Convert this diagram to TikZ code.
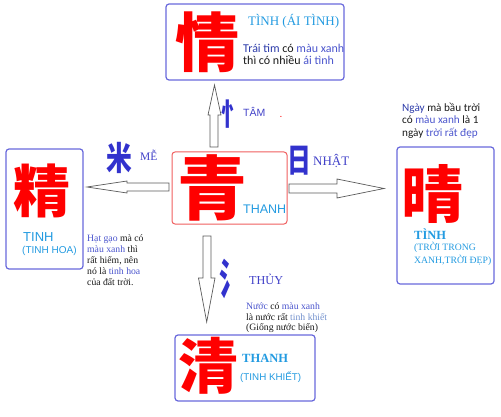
\documentclass[tikz,border=0pt]{standalone}
\usepackage{fontspec}
\setmainfont{Liberation Serif}
\newfontfamily\sansf{Liberation Sans}
\newfontfamily\calib{Carlito}
\newfontfamily\cjk{Noto Sans CJK SC}
\definecolor{lblue}{RGB}{35,155,225}
\definecolor{boxblue}{RGB}{105,105,220}
\definecolor{boxred}{RGB}{240,95,95}
\definecolor{lab}{RGB}{65,65,200}
\definecolor{rad}{RGB}{50,50,205}
\definecolor{nblue}{RGB}{75,85,205}
\definecolor{dblue}{RGB}{45,60,170}
\definecolor{gblue}{RGB}{115,145,205}
\definecolor{txt}{RGB}{25,25,25}
\definecolor{arr}{RGB}{90,90,90}
\newcommand\fsz[1]{\fontsize{#1}{#1}\selectfont}
\begin{document}
\begin{tikzpicture}[x=1pt,y=-1pt,
  bx/.style={draw=boxblue,line width=1.2pt,rounded corners=3pt,inner sep=0,fill=white},
  rbx/.style={draw=boxred,line width=1pt,rounded corners=3pt,inner sep=0,fill=white},
  blockarrow/.style={draw=arr,fill=white,line width=0.7pt,line join=miter},
  tx/.style={anchor=base west,inner sep=0,text=txt},
  big/.style={inner sep=0,text=red},
  radical/.style={inner sep=0,text=rad}]
\useasboundingbox (0,0) rectangle (501,417);
% boxes
\node[bx,minimum width=178pt,minimum height=76pt] (top) at (255,42) {};
\node[bx,minimum width=77pt,minimum height=120pt] (left) at (44.5,209) {};
\node[bx,minimum width=97pt,minimum height=137pt] (right) at (445.5,215.5) {};
\node[bx,minimum width=140pt,minimum height=66pt] (bottom) at (245,368) {};
\node[rbx,minimum width=115pt,minimum height=72pt] (center) at (229.5,188) {};
% block arrows
\coordinate (ua) at (214.5,85);
\draw[blockarrow] (210,147) -- (210,115) -- (208,115) -- (ua) -- (221,115) -- (218,115) -- (218,147) -- cycle;
\coordinate (la) at (87,187);
\draw[blockarrow] (169,183) -- (127,183) -- (127,181) -- (la) -- (127,193) -- (127,191) -- (169,191) -- cycle;
\coordinate (ra) at (384,188.5);
\draw[blockarrow] (289,184) -- (337,184) -- (337,179) -- (ra) -- (337,198) -- (337,193) -- (289,193) -- cycle;
\coordinate (da) at (206.7,322);
\draw[blockarrow] (203,236) -- (203,278) -- (198.5,278) -- (da) -- (215,278) -- (211,278) -- (211,236) -- cycle;
% big characters
\node[big,font=\cjk\bfseries\fsz{64}] (c1) at (207.5,42.5) {情};
\node[big,font=\cjk\bfseries\fsz{57}] (c2) at (41.5,191) {精};
\node[big,font=\cjk\bfseries\fsz{70}] (c3) at (212,188) {青};
\node[big,font=\cjk\bfseries\fsz{62}] (c4) at (432,194) {晴};
\node[big,font=\cjk\bfseries\fsz{60}] (c5) at (208.5,365.5) {清};
% radicals
\node[radical,font=\cjk\bfseries\fsz{33},xscale=0.78] (r1) at (119,157.5) {米};
\node[radical,font=\cjk\bfseries\fsz{30},xscale=0.7] (r2) at (232,114.5) {忄};
\node[radical,font=\cjk\bfseries\fsz{33},xscale=0.72] (r3) at (299.5,161) {日};
\node[radical,font=\cjk\bfseries\fsz{42},xscale=0.6] (r4) at (232,278.5) {氵};
% radical labels
\node[tx,text=lab,font=\fsz{11.5}] (l1) at (140,161) {MỄ};
\node[tx,text=lab,font=\sansf\fsz{10.5}] (l2) at (243,117) {TÂM};
\node[tx,text=red,font=\sansf\fsz{10}] (dot) at (279.5,118) {.};
\node[tx,text=lab,font=\fsz{13}] (l3) at (313,166) {NHẬT};
\node[tx,text=lab,font=\fsz{12.2}] (l4) at (249,284) {THỦY};
% top box texts
\node[tx,text=lblue,font=\fsz{13}] (t1) at (248,26) {TÌNH (ÁI TÌNH)};
\node[tx,font=\calib\fsz{12}] (t2) at (243,53) {\textcolor{dblue}{Trái tim} có \textcolor{nblue}{màu xanh}};
\node[tx,font=\calib\fsz{12}] (t3) at (243,65) {thì có nhiều \textcolor{nblue}{ái tình}};
% center
\node[tx,text=lblue,font=\sansf\fsz{12.5}] (ct) at (243,213) {THANH};
% left box
\node[tx,text=lblue,font=\sansf\fsz{13}] (lt1) at (23,241) {TINH};
\node[tx,text=lblue,font=\sansf\fsz{10}] (lt2) at (22,253) {(TINH HOA)};
\node[tx,font=\fsz{9.7}] (ln1) at (87,241.5) {\textcolor{nblue}{Hạt gạo} mà có};
\node[tx,font=\fsz{9.7}] (ln2) at (87,252.5) {\textcolor{nblue}{màu xanh} thì};
\node[tx,font=\fsz{9.7}] (ln3) at (87,263.5) {rất hiếm, nên};
\node[tx,font=\fsz{9.7}] (ln4) at (87,274.5) {nó là \textcolor{nblue}{tinh hoa}};
\node[tx,font=\fsz{9.7}] (ln5) at (87,285.5) {của đất trời.};
% right box
\node[tx,font=\calib\fsz{11.2}] (rn1) at (402,111.5) {\textcolor{dblue}{Ngày} mà bầu trời};
\node[tx,font=\calib\fsz{11.2}] (rn2) at (402,124) {có \textcolor{nblue}{màu xanh} là 1};
\node[tx,font=\calib\fsz{11.2}] (rn3) at (402,136.5) {ngày \textcolor{nblue}{trời rất đẹp}};
\node[tx,text=lblue,font=\bfseries\fsz{12.5}] (rt1) at (414,240) {TÌNH};
\node[tx,text=lblue,font=\fsz{9.7}] (rt2) at (414,251) {(TRỜI TRONG};
\node[tx,text=lblue,font=\fsz{9.7}] (rt3) at (414,263.5) {XANH,TRỜI ĐẸP)};
% bottom
\node[tx,font=\fsz{9.7}] (bn1) at (246,309.5) {\textcolor{nblue}{Nước} có \textcolor{nblue}{màu xanh}};
\node[tx,font=\fsz{9.7}] (bn2) at (246,320) {là nước rất \textcolor{gblue}{tinh khiết}};
\node[tx,font=\fsz{9.7}] (bn3) at (246,330.5) {(Giống nước biển)};
\node[tx,text=lblue,font=\bfseries\fsz{12.5}] (bt1) at (242,362) {THANH};
\node[tx,text=lblue,font=\sansf\fsz{9.8}] (bt2) at (240,380.5) {(TINH KHIẾT)};
\end{tikzpicture}
\end{document}
